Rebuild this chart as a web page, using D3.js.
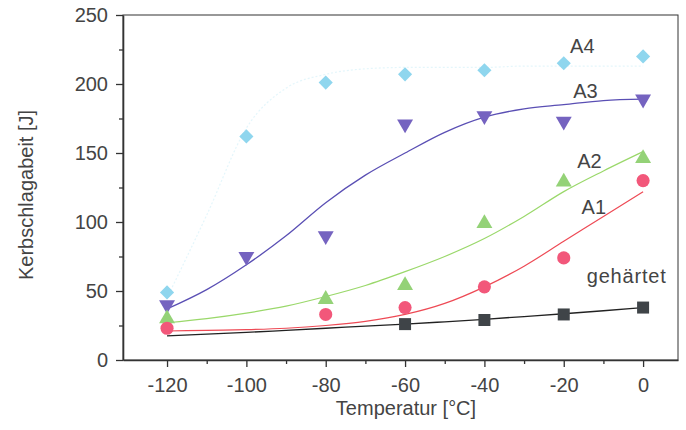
<!DOCTYPE html>
<html>
<head>
<meta charset="utf-8">
<script src="https://cdn.jsdelivr.net/npm/d3@7"></script>
<style>
  body { margin: 0; background: #fff; }
  svg text { font-family: "Liberation Sans", Arial, sans-serif; }
</style>
</head>
<body>
<script>
// measured points
var temps = [-120, -100, -80, -60, -40, -20, 0];
var a4 = [49, 162, 201, 207, 210, 215, 220];
var a3 = [40, 75, 90, 171, 177, 173, 189];
var a2 = [30, null, 44, 54, 99, 129, 146];
var a1 = [23, null, 33, 38, 53, 74, 130];
var gehaertet = [null, null, null, 26, 29, 33, 38];

// fit curves
var fitTemps = [-120, -110, -100, -90, -80, -70, -60, -50, -40, -30, -20, -10, 0];
var fitA4 = [45, 105, 168, 197, 207, 211, 212, 212, 212, 213, 213, 213, 213];
var fitA3 = [37, 51, 69, 90, 114, 134, 150, 165, 176, 182, 185, 188, 189];
var fitA2 = [27, 30, 34, 39, 46, 54, 64, 75, 88, 104, 122, 137, 151];
var fitA1 = [21, 21.5, 22, 23, 25, 28, 33, 41, 53, 68, 86, 104, 122];
var fitGeh = [17.5, 18.7, 20, 21.5, 23, 24.5, 26, 27.7, 29.5, 31.5, 33.5, 35.7, 38];

var xTicks = [-120, -100, -80, -60, -40, -20, 0];
var xMinor = [-110, -90, -70, -50, -30, -10];
var yTicks = [0, 50, 100, 150, 200, 250];
var yMinor = [25, 75, 125, 175, 225];

var margin = {left: 123, top: 15, right: 8, bottom: 70};
var W = 686, H = 430;
var w = W - margin.left - margin.right, h = H - margin.top - margin.bottom;

var svg = d3.select("body").append("svg").attr("width", W).attr("height", H);
var g = svg.append("g").attr("transform", "translate(" + margin.left + "," + margin.top + ")");

var x = d3.scaleLinear().domain([-131.1, 8.8]).range([0, w]);
var y = d3.scaleLinear().domain([0, 250]).range([h, 0]);
var fmt = function(d) { return String(d); };

// frame
g.append("rect").attr("width", w).attr("height", h)
  .attr("fill", "none").attr("stroke", "#333").attr("stroke-width", 1);

g.append("g").attr("transform", "translate(0," + h + ")")
  .call(d3.axisBottom(x).tickValues(xTicks).tickFormat(fmt).tickSize(7).tickPadding(11).tickSizeOuter(0));
g.append("g").attr("transform", "translate(0," + h + ")")
  .call(d3.axisBottom(x).tickValues(xMinor).tickSize(4).tickFormat("").tickSizeOuter(0))
  .select(".domain").remove();
g.append("g")
  .call(d3.axisLeft(y).tickValues(yTicks).tickFormat(fmt).tickSize(7).tickPadding(8).tickSizeOuter(0));
g.append("g")
  .call(d3.axisLeft(y).tickValues(yMinor).tickSize(4).tickFormat("").tickSizeOuter(0))
  .select(".domain").remove();

g.selectAll(".domain").attr("stroke", "#333").attr("stroke-width", 1.6);
g.selectAll(".tick line").attr("stroke", "#333").attr("stroke-width", 1.3);
g.selectAll(".tick text").attr("font-size", 20).attr("fill", "#444")
  .attr("font-family", "Liberation Sans, Arial, sans-serif");

svg.append("text").attr("transform", "translate(33,195) rotate(-90)")
  .attr("text-anchor", "middle").attr("font-size", 20).attr("fill", "#444")
  .text("Kerbschlagabeit [J]");
svg.append("text").attr("x", 406).attr("y", 415)
  .attr("text-anchor", "middle").attr("font-size", 20).attr("fill", "#444")
  .text("Temperatur [°C]");

var line = d3.line()
  .defined(function(d) { return d[1] != null; })
  .x(function(d) { return x(d[0]); })
  .y(function(d) { return y(d[1]); })
  .curve(d3.curveMonotoneX);

var fits = [
  {vals: fitA4, color: "#cdeef7", width: 1.2, opacity: 0.55, dash: "2,2"},
  {vals: fitA3, color: "#5a4fb4", width: 1.3, opacity: 1},
  {vals: fitA2, color: "#9ad86a", width: 1.2, opacity: 1},
  {vals: fitA1, color: "#ee4a55", width: 1.2, opacity: 1},
  {vals: fitGeh, color: "#222", width: 1.3, opacity: 1}
];
fits.forEach(function(f) {
  g.append("path")
    .datum(fitTemps.map(function(t, i) { return [t, f.vals[i]]; }))
    .attr("d", line)
    .attr("fill", "none").attr("stroke", f.color)
    .attr("stroke-width", f.width).attr("opacity", f.opacity)
    .attr("stroke-dasharray", f.dash || null);
});

var series = [
  {vals: a4, sym: d3.symbolSquare, size: 100, rot: 45, fill: "#8fd6ee"},
  {vals: a3, sym: d3.symbolTriangle, size: 110, rot: 180, fill: "#7563c0"},
  {vals: a2, sym: d3.symbolTriangle, size: 110, rot: 0, fill: "#94d277"},
  {vals: a1, sym: d3.symbolCircle, size: 135, rot: 0, fill: "#f2577a"},
  {vals: gehaertet, sym: d3.symbolSquare, size: 144, rot: 0, fill: "#3f4448"}
];
series.forEach(function(s) {
  var pts = temps.map(function(t, i) { return [t, s.vals[i]]; })
    .filter(function(d) { return d[1] != null; });
  g.selectAll(null).data(pts).enter().append("path")
    .attr("d", d3.symbol().type(s.sym).size(s.size))
    .attr("transform", function(d) {
      return "translate(" + x(d[0]) + "," + y(d[1]) + ") rotate(" + s.rot + ")";
    })
    .attr("fill", s.fill);
});

var labels = [
  {t: -18.4, v: 222.5, text: "A4"},
  {t: -17.6, v: 190, text: "A3"},
  {t: -16.6, v: 139, text: "A2"},
  {t: -15.5, v: 106, text: "A1"},
  {t: -14.2, v: 56, text: "gehärtet"}
];
g.selectAll(null).data(labels).enter().append("text")
  .attr("x", function(d) { return x(d.t); })
  .attr("y", function(d) { return y(d.v); })
  .attr("font-size", 20).attr("fill", "#444")
  .attr("letter-spacing", function(d) { return d.text.length > 2 ? 0.8 : 0; })
  .text(function(d) { return d.text; });
</script>
</body>
</html>
